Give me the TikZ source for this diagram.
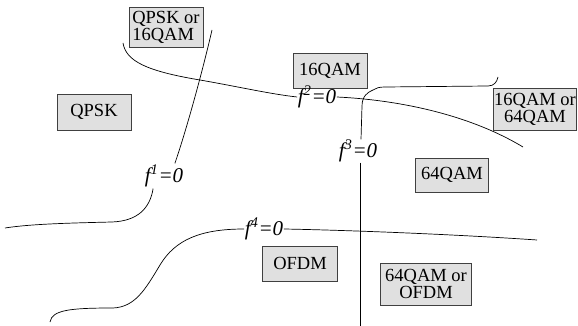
\documentclass[tikz,border=0pt]{standalone}
\usepackage{fontspec}
\setmainfont{Liberation Serif}
\begin{document}
\begin{tikzpicture}[x=1pt,y=-1pt,
  modbox/.style={draw=black!75, line width=0.8pt, fill=black!12, inner sep=0pt,
    font=\fontsize{18.5}{17}\selectfont, align=center},
  flabel/.style={inner sep=0.5pt, font=\fontsize{21}{21}\selectfont\itshape},
  curve/.style={draw=black, line width=0.7pt}]
\useasboundingbox (0,0) rectangle (578,326);

% modulation regions
\node[modbox, align=left, minimum width=74pt, minimum height=40pt] (qpsk16) at (166,27) {QPSK or\\16QAM};
\node[modbox, minimum width=74pt, minimum height=35pt] (qam16) at (330,70.5) {16QAM};
\node[modbox, minimum width=74pt, minimum height=36pt] (qpsk) at (94,112) {QPSK};
\node[modbox, minimum width=83pt, minimum height=42pt] (qam1664) at (535,109) {16QAM or\\64QAM};
\node[modbox, minimum width=73pt, minimum height=34pt] (qam64) at (452,175) {64QAM};
\node[modbox, minimum width=75pt, minimum height=35pt] (ofdm) at (300,263.5) {OFDM};
\node[modbox, minimum width=91pt, minimum height=42pt] (qam64ofdm) at (426,284) {64QAM or\\OFDM};

% boundary labels
\node[flabel] (f1) at (164,176) {f\textsuperscript{1}=0};
\node[flabel] (f2) at (317,97) {f\textsuperscript{2}=0};
\node[flabel] (f3) at (358,151) {f\textsuperscript{3}=0};
\node[flabel] (f4) at (264,229) {f\textsuperscript{4}=0};

% free ends of the boundaries
\coordinate (f1top) at (212,30);
\coordinate (f1left) at (5,228);
\coordinate (f2left) at (123,43);
\coordinate (f2right) at (523,147);
\coordinate (f3bottom) at (360,326);
\coordinate (f3top) at (498,77);
\coordinate (f4left) at (50,322);
\coordinate (f4right) at (537,240);

% f^1 = 0
\draw[curve] (f1.north east) ++(-9,-1) .. controls (188,125) and (204,65) .. (f1top);
\draw[curve] (f1.south west) ++(9,1) .. controls (150,208) and (138,221) .. (112,222)
  .. controls (70,223) and (30,224) .. (f1left);

% f^2 = 0
\draw[curve] (f2left) .. controls (126,61) and (146,71) .. (200,80)
  .. controls (240,87) and (270,94) .. (f2.west);
\draw[curve] (f2.east) .. controls (400,100) and (470,115) .. (f2right);

% f^3 = 0
\draw[curve] (f3.south) ++(2,0) -- (f3bottom);
\draw[curve] (f3.north) ++(3,0) -- (362,106) .. controls (362,96) and (368,92) .. (373,90)
  .. controls (376,88) and (379,87) .. (385,87) -- (488,86)
  .. controls (494,86) and (497,82) .. (f3top);

% f^4 = 0
\draw[curve] (f4left) .. controls (52,310) and (70,308) .. (113,308)
  .. controls (135,307) and (145,290) .. (160,265)
  .. controls (175,240) and (200,229) .. (f4.west);
\draw[curve] (f4.east) .. controls (340,230) and (450,234) .. (f4right);
\end{tikzpicture}
\end{document}
